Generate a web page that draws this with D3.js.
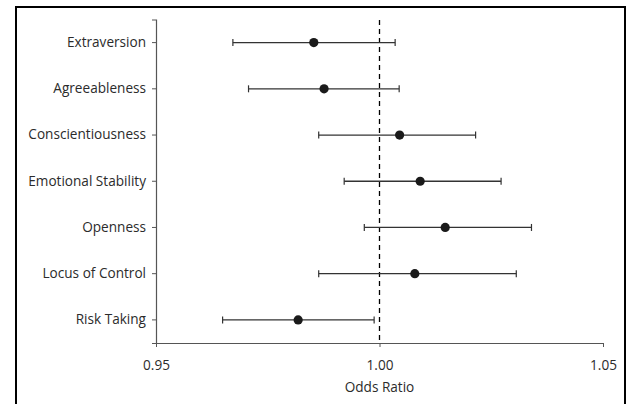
<!DOCTYPE html>
<html><head><meta charset="utf-8">
<script src="https://cdn.jsdelivr.net/npm/d3@7"></script>
<style>html,body{margin:0;padding:0;background:#fff;}</style>
</head><body>
<svg id="chart" width="627" height="404"></svg>
<script>
const categories = ["Extraversion","Agreeableness","Conscientiousness","Emotional Stability","Openness","Locus of Control","Risk Taking"];
const oddsRatio = [0.9853, 0.9876, 1.0045, 1.0091, 1.0147, 1.0079, 0.9818];
const lowerCI   = [0.9672, 0.9707, 0.9864, 0.9921, 0.9966, 0.9864, 0.9649];
const upperCI   = [1.0035, 1.0044, 1.0215, 1.0272, 1.0340, 1.0306, 0.9988];
const xTicks = [0.95, 1.00, 1.05];
const xLabel = "Odds Ratio";

const svg = d3.select("#chart");
const font = "'Open Sans', sans-serif";
const fs = 13.6;
const textColor = "#2b2b2b";

svg.append("rect").attr("x",16).attr("y",7).attr("width",609).attr("height",420)
  .attr("fill","#fff").attr("stroke","#000").attr("stroke-width",2);

const x = d3.scaleLinear().domain([0.95,1.05]).range([156,603]);
const y = d3.scaleBand().domain(categories).range([19.5,343]);

const g = svg.append("g");

// y axis
const yAxis = d3.axisLeft(y).tickSize(4).tickSizeOuter(4);
const ya = g.append("g").attr("transform","translate(156,0)").call(yAxis);
ya.select(".domain").attr("stroke","#555").attr("stroke-width",1.2);
ya.selectAll(".tick line").attr("stroke","#555");
ya.selectAll(".tick text").attr("font-family",font).attr("font-size",fs).attr("fill",textColor).attr("x",-10);

// x axis
const xAxis = d3.axisBottom(x).tickValues(xTicks).tickFormat(d3.format(".2f")).tickSize(4).tickSizeOuter(0);
const xa = g.append("g").attr("transform","translate(0,343)").call(xAxis);
xa.select(".domain").attr("stroke","#555").attr("stroke-width",1.2);
xa.selectAll(".tick line").attr("stroke","#555");
xa.selectAll(".tick text").attr("font-family",font).attr("font-size",fs).attr("fill",textColor).attr("dy","1.45em");

g.append("text").attr("x",x(1.0)).attr("y",392).attr("text-anchor","middle")
  .attr("font-family",font).attr("font-size",fs).attr("fill",textColor).text(xLabel);

// reference line
g.append("line").attr("x1",x(1.0)).attr("x2",x(1.0)).attr("y1",20).attr("y2",343)
  .attr("stroke","#000").attr("stroke-width",1.3).attr("stroke-dasharray","5,4");

const data = categories.map((c,i)=>({c, or:oddsRatio[i], lo:lowerCI[i], hi:upperCI[i]}));
const rows = g.selectAll(".row").data(data).join("g").attr("class","row")
  .attr("transform",d=>`translate(0,${y(d.c)+y.bandwidth()/2})`);
rows.append("line").attr("x1",d=>x(d.lo)).attr("x2",d=>x(d.hi)).attr("stroke","#333").attr("stroke-width",1.3);
rows.append("line").attr("x1",d=>x(d.lo)).attr("x2",d=>x(d.lo)).attr("y1",-3.5).attr("y2",3.5).attr("stroke","#333").attr("stroke-width",1.2);
rows.append("line").attr("x1",d=>x(d.hi)).attr("x2",d=>x(d.hi)).attr("y1",-3.5).attr("y2",3.5).attr("stroke","#333").attr("stroke-width",1.2);
rows.append("circle").attr("cx",d=>x(d.or)).attr("r",4.6).attr("fill","#1a1a1a");
</script>
</body></html>
